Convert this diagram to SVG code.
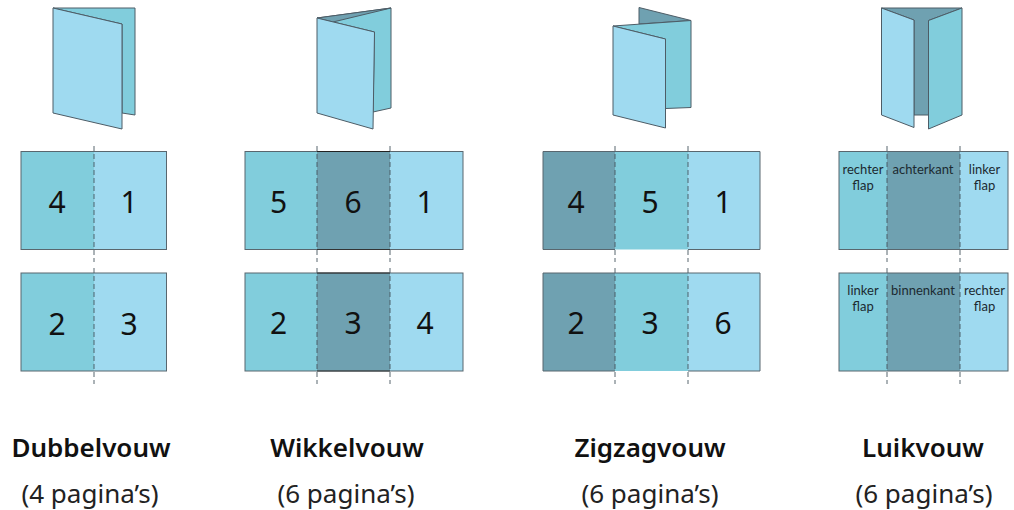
<svg xmlns="http://www.w3.org/2000/svg" width="1014" height="510" viewBox="0 0 1014 510">
<style>
.l{fill:#9fdaf0}.m{fill:#81cddc}.d{fill:#6fa1b1}
.o{stroke:#4d5c66;stroke-width:1;stroke-linejoin:round}
.f{fill:none;stroke:#59666e;stroke-width:1}
.c{stroke:#46565f;stroke-width:.9;stroke-dasharray:5 3;fill:none}
text{font-family:"Noto Sans","Open Sans",sans-serif;fill:#111;text-anchor:middle}
.n{font-size:30px}
.s{font-family:Lato,"Noto Sans",sans-serif;font-size:13px;fill:#1c2a30}
.t{font-size:26px;font-weight:600}
.p{font-size:26px;fill:#222}
</style>
<g id="fold-dubbel">
<polygon class="m o" points="53,8 135,8 135,115 122,113 122,24"/>
<polygon class="l o" points="53,8 122,24 122,129 53,113"/>
</g>
<g id="fold-wikkel">
<polygon class="m o" points="317,18 391,8 391,108 373,112 374.5,32"/>
<polygon class="d o" points="317,18 391,8 333,22"/>
<polygon class="l o" points="317,18 374.5,32 373,129 317,113"/>
</g>
<g id="fold-zigzag">
<polygon class="d o" points="639,7.5 691,20.5 639,24"/>
<polygon class="m o" points="613,26 691,20.5 691,107.5 665.5,108.5 665.5,39"/>
<polygon class="l o" points="613,26 665.5,39 665.5,128 613,115"/>
</g>
<g id="fold-luik">
<polygon class="d o" points="881.5,8 962,8 928.5,20.5 928.5,115 914,115 914,20"/>
<polygon class="l o" points="881.5,8 914,20 914,127.5 881.5,115"/>
<polygon class="m o" points="928.5,20.5 962,8 962,115 928.5,129"/>
</g>
<g id="flat-dubbel-1">
<rect class="m" x="21" y="151.5" width="73" height="98"/><rect class="l" x="94" y="151.5" width="72.500" height="98"/><rect class="f" x="21" y="151.500" width="145.500" height="98"/>
<text class="n" x="57" y="213">4</text><text class="n" x="129" y="213">1</text>
</g>
<g id="flat-dubbel-2">
<rect class="m" x="21" y="273" width="73" height="98"/><rect class="l" x="94" y="273" width="72.500" height="98"/><rect class="f" x="21" y="273" width="145.500" height="98"/>
<text class="n" x="57" y="335">2</text><text class="n" x="129" y="335">3</text>
</g>
<g id="flat-wikkel-1">
<rect class="m" x="245" y="151.500" width="72" height="98"/><rect class="d" x="317" y="151.500" width="73" height="98"/><rect class="l" x="390" y="151.500" width="73" height="98"/><rect class="f" x="245" y="151.500" width="218" height="98"/>
<line x1="317" y1="151.500" x2="390" y2="151.500" stroke="#222"/><line x1="317" y1="249.500" x2="390" y2="249.500" stroke="#333"/>
<text class="n" x="278.500" y="213">5</text><text class="n" x="353" y="213">6</text><text class="n" x="425" y="213">1</text>
</g>
<g id="flat-wikkel-2">
<rect class="m" x="245" y="273" width="72" height="98"/><rect class="d" x="317" y="273" width="73" height="98"/><rect class="l" x="390" y="273" width="73" height="98"/><rect class="f" x="245" y="273" width="218" height="98"/>
<line x1="317" y1="273" x2="390" y2="273" stroke="#222"/><line x1="317" y1="371" x2="390" y2="371" stroke="#333"/>
<text class="n" x="278.500" y="334">2</text><text class="n" x="353" y="334">3</text><text class="n" x="425" y="334">4</text>
</g>
<g id="flat-zigzag-1">
<rect class="d" x="543" y="151.500" width="72" height="98"/><rect class="m" x="615" y="151.500" width="73" height="98"/><rect class="l" x="688" y="151.500" width="72" height="98"/>
<path class="f" d="M688,151.500H760V249.500H688M615,151.500H543V249.500H615M615,151.500H688"/>
<text class="n" x="576" y="213">4</text><text class="n" x="650" y="213">5</text><text class="n" x="723" y="213">1</text>
</g>
<g id="flat-zigzag-2">
<rect class="d" x="543" y="273" width="72" height="98"/><rect class="m" x="615" y="273" width="73" height="98"/><rect class="l" x="688" y="273" width="72" height="98"/>
<path class="f" d="M688,273H760V371H688M615,273H543V371H615M615,273H688"/>
<text class="n" x="576" y="334">2</text><text class="n" x="650" y="334">3</text><text class="n" x="723" y="334">6</text>
</g>
<g id="flat-luik-1">
<rect class="m" x="839" y="151.500" width="48" height="98"/><rect class="d" x="887" y="151.500" width="73" height="98"/><rect class="l" x="960" y="151.500" width="48" height="98"/><rect class="f" x="839" y="151.500" width="169" height="98"/>
<text class="s" x="863" y="174">rechter</text><text class="s" x="863" y="190">flap</text>
<text class="s" x="923" y="174">achterkant</text>
<text class="s" x="984.500" y="174">linker</text><text class="s" x="984.500" y="190">flap</text>
</g>
<g id="flat-luik-2">
<rect class="m" x="839" y="273" width="48" height="98"/><rect class="d" x="887" y="273" width="73" height="98"/><rect class="l" x="960" y="273" width="48" height="98"/><rect class="f" x="839" y="273" width="169" height="98"/>
<text class="s" x="863" y="295">linker</text><text class="s" x="863" y="311">flap</text>
<text class="s" x="923" y="295">binnenkant</text>
<text class="s" x="984.500" y="295">rechter</text><text class="s" x="984.500" y="311">flap</text>
</g>
<g id="connectors">
<path class="c" d="M94,146V262M94,268V384M317,146V262M317,268V384M390,146V262M390,268V384M615,146V262M615,268V384M688,146V262M688,268V384M887,146V262M887,268V384M960,146V262M960,268V384"/>
</g>
<g id="titles">
<text class="t" x="91" y="457">Dubbelvouw</text><text class="p" x="90" y="503">(4 pagina’s)</text>
<text class="t" x="347" y="457">Wikkelvouw</text><text class="p" x="346" y="503">(6 pagina’s)</text>
<text class="t" x="650" y="457">Zigzagvouw</text><text class="p" x="650" y="503">(6 pagina’s)</text>
<text class="t" x="923" y="457">Luikvouw</text><text class="p" x="924" y="503">(6 pagina’s)</text>
</g>
</svg>
